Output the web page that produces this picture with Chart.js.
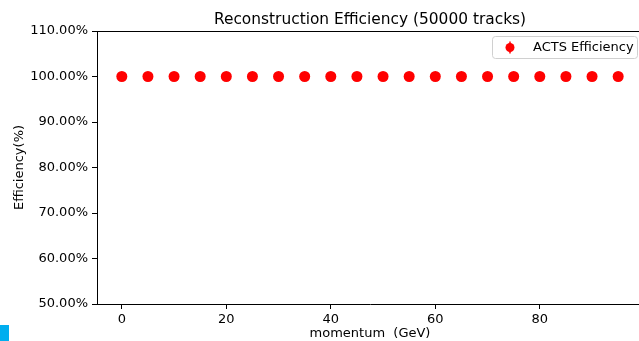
<!DOCTYPE html>
<html>
<head>
<meta charset="utf-8">
<script src="https://cdn.jsdelivr.net/npm/chart.js"></script>
<style>
  html, body { margin: 0; padding: 0; overflow: hidden; background: #fff; }
  #wrap { width: 650px; height: 341px; }
</style>
</head>
<body>
<div id="wrap"><canvas id="effCanvas" width="650" height="341"></canvas></div>
<script>
// momentum bins (GeV) and reconstruction efficiency (%)
var momentum = [0, 5, 10, 15, 20, 25, 30, 35, 40, 45, 50, 55, 60, 65, 70, 75, 80, 85, 90, 95];
var efficiency = [100, 100, 100, 100, 100, 100, 100, 100, 100, 100,
                  100, 100, 100, 100, 100, 100, 100, 100, 100, 100];

var xTicks = [0, 20, 40, 60, 80];
var yTicks = [50, 60, 70, 80, 90, 100, 110];

var seriesLabel = "ACTS Efficiency";
var chartTitle = "Reconstruction Efficiency (50000 tracks)";

var FONT = "'DejaVu Sans', sans-serif";

// title over the axes, top/right spines, the legend box and the corner marker
var extras = {
  id: "extras",
  afterDraw: function (chart) {
    var ctx = chart.ctx;
    var a = chart.chartArea;
    ctx.save();

    ctx.fillStyle = "#000";
    ctx.font = "15.4px " + FONT;
    ctx.textAlign = "center";
    ctx.textBaseline = "alphabetic";
    ctx.fillText(chartTitle, (a.left + a.right) / 2, a.top - 7);

    ctx.strokeStyle = "#000";
    ctx.lineWidth = 1;
    ctx.beginPath();
    ctx.moveTo(a.left, a.top + 0.5);
    ctx.lineTo(a.right, a.top + 0.5);
    ctx.moveTo(a.right - 0.5, a.top);
    ctx.lineTo(a.right - 0.5, a.bottom);
    ctx.stroke();

    // legend
    var bx = a.right - 151, by = a.top + 5, bw = 145, bh = 22;
    ctx.fillStyle = "rgba(255,255,255,0.8)";
    ctx.strokeStyle = "#d0d0d0";
    ctx.beginPath();
    ctx.roundRect(bx + 0.5, by + 0.5, bw, bh, 3);
    ctx.fill();
    ctx.stroke();

    var mx = bx + 18, my = by + 11.5;
    ctx.strokeStyle = "#ff0000";
    ctx.lineWidth = 1.5;
    ctx.beginPath();
    ctx.moveTo(mx, my - 6);
    ctx.lineTo(mx, my + 6);
    ctx.stroke();
    ctx.fillStyle = "#ff0000";
    ctx.beginPath();
    ctx.arc(mx, my, 4.5, 0, Math.PI * 2);
    ctx.fill();

    ctx.fillStyle = "#000";
    ctx.font = "13px " + FONT;
    ctx.textBaseline = "middle";
    ctx.textAlign = "left";
    ctx.fillText(seriesLabel, bx + 41, my);

    ctx.fillStyle = "#00aeef";
    ctx.fillRect(0, 325, 9, 16);
    ctx.restore();
  }
};

var ctx = document.getElementById("effCanvas");

var points = momentum.map(function (m, i) {
  return { x: m, y: efficiency[i] };
});

var chart = new Chart(ctx, {
  type: "scatter",
  data: {
    datasets: [{
      label: seriesLabel,
      data: points,
      backgroundColor: "#ff0000",
      borderColor: "#ff0000",
      pointRadius: 5.5,
      pointHoverRadius: 5.5,
      borderWidth: 0
    }]
  },
  options: {
    responsive: false,
    animation: false,
    layout: { padding: { left: 0, right: 7, top: 31, bottom: 0 } },
    plugins: {
      legend: { display: false },
      tooltip: { enabled: false },
      title: { display: false }
    },
    scales: {
      x: {
        type: "linear",
        min: -4.75,
        max: 99.75,
        afterBuildTicks: function (scale) {
          scale.ticks = xTicks.map(function (v) { return { value: v }; });
        },
        afterFit: function (scale) { scale.height = 37; },
        grid: { display: true, drawOnChartArea: false, drawTicks: true, tickLength: 5, color: "#000" },
        border: { display: true, color: "#000", width: 1 },
        ticks: { color: "#000", padding: 3, font: { family: FONT, size: 13 } },
        title: {
          display: true,
          text: "momentum  (GeV)",
          color: "#000",
          font: { family: FONT, size: 13 },
          padding: { top: 0, bottom: 0 }
        }
      },
      y: {
        type: "linear",
        min: 50,
        max: 110,
        afterBuildTicks: function (scale) {
          scale.ticks = yTicks.map(function (v) { return { value: v }; });
        },
        afterFit: function (scale) { scale.width = 97; },
        grid: { display: true, drawOnChartArea: false, drawTicks: true, tickLength: 5, color: "#000" },
        border: { display: true, color: "#000", width: 1 },
        ticks: {
          color: "#000",
          padding: 4,
          font: { family: FONT, size: 13 },
          callback: function (v) { return v.toFixed(2) + "%"; }
        },
        title: {
          display: true,
          text: "Efficiency(%)",
          color: "#000",
          font: { family: FONT, size: 13 },
          padding: { top: 12, bottom: 0 }
        }
      }
    }
  },
  plugins: [extras]
});
</script>
</body>
</html>
